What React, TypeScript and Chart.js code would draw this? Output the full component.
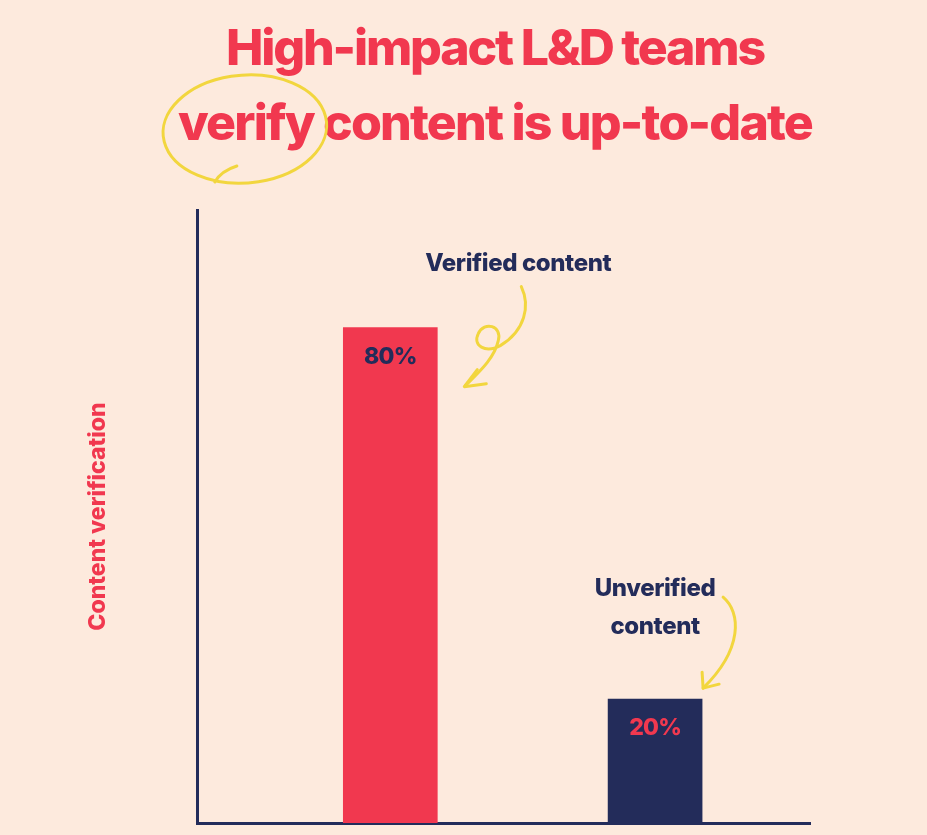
import { useEffect, useRef } from "react";
import { Chart, registerables } from "chart.js";

Chart.register(...registerables);

// ---- data ----
const categories = ["Verified content", "Unverified content"];
const values = [80, 20];
const valueLabels = ["80%", "20%"];
const annotationLines = [["Verified content"], ["Unverified", "content"]];
const titleLines = ["High-impact L&D teams", "verify content is up-to-date"];
const circledWord = "verify";
const yAxisTitle = "Content verification";

// ---- styles ----
const BG = "#fdeadd";
const RED = "#f1384f";
const NAVY = "#232c5a";
const YELLOW = "#f2d63e";
const barColors = [RED, NAVY];
const labelColors = [NAVY, RED];
const FONT = "Inter, 'Open Sans', sans-serif";

const bgPlugin = {
  id: "bg",
  beforeDraw(chart: any) {
    const { ctx, width, height } = chart;
    ctx.save();
    ctx.fillStyle = BG;
    ctx.fillRect(0, 0, width, height);
    ctx.restore();
  },
};

const titlePlugin = {
  id: "titleDeco",
  afterDraw(chart: any) {
    const ctx = chart.ctx as CanvasRenderingContext2D;
    const cx = 495;
    ctx.save();
    ctx.fillStyle = RED;
    ctx.textAlign = "left";
    ctx.textBaseline = "alphabetic";
    ctx.font = `800 50px ${FONT}`;
    const spacing = ["-2.2px", "-1.8px"];
    const baselines = [65, 140];
    let line2Left = 0;
    let vw = 0;
    titleLines.forEach((t, i) => {
      (ctx as any).letterSpacing = spacing[i];
      const w = ctx.measureText(t).width;
      const left = cx - w / 2;
      if (i === 1) {
        line2Left = left;
        vw = ctx.measureText(circledWord).width;
      }
      ctx.fillText(t, left, baselines[i]);
    });
    ctx.restore();

    // hand-drawn circle around the word
    ctx.save();
    ctx.strokeStyle = YELLOW;
    ctx.lineWidth = 3;
    ctx.lineCap = "round";
    const ex = line2Left + vw / 2 - 1;
    const ey = 129;
    ctx.beginPath();
    ctx.ellipse(ex, ey, vw / 2 + 14, 54, -0.08, -0.9, Math.PI * 1.75);
    ctx.stroke();
    ctx.beginPath();
    ctx.moveTo(ex - 8, ey + 37);
    ctx.quadraticCurveTo(ex - 24, ey + 42, ex - 30, ey + 53);
    ctx.stroke();
    ctx.restore();
  },
};

const annotatePlugin = {
  id: "annotate",
  afterDatasetsDraw(chart: any) {
    const ctx = chart.ctx as CanvasRenderingContext2D;
    const bars = chart.getDatasetMeta(0).data;
    ctx.save();
    ctx.textAlign = "center";
    ctx.textBaseline = "middle";
    // value labels inside bars
    bars.forEach((b: any, i: number) => {
      ctx.fillStyle = labelColors[i];
      ctx.font = `800 23px ${FONT}`;
      (ctx as any).letterSpacing = "-0.8px";
      ctx.fillText(valueLabels[i], b.x, b.y + 29);
    });
    // annotations
    ctx.fillStyle = NAVY;
    ctx.font = `800 24px ${FONT}`;
    (ctx as any).letterSpacing = "-0.4px";
    const b0 = bars[0];
    const b1 = bars[1];
    ctx.fillText(annotationLines[0][0], b0.x + 128, b0.y - 64);
    ctx.fillText(annotationLines[1][0], b1.x, b1.y - 110);
    ctx.fillText(annotationLines[1][1], b1.x, b1.y - 72);

    // arrows
    ctx.strokeStyle = YELLOW;
    ctx.lineWidth = 3;
    ctx.lineCap = "round";
    ctx.lineJoin = "round";
    // arrow 1 with loop
    ctx.save();
    ctx.translate(b0.x, b0.y);
    ctx.beginPath();
    ctx.moveTo(131, -41);
    ctx.bezierCurveTo(140, -22, 135, 3, 110, 18);
    ctx.bezierCurveTo(95, 26, 82, 18, 88, 6);
    ctx.bezierCurveTo(94, -7, 112, -2, 108, 13);
    ctx.bezierCurveTo(104, 31, 88, 45, 75, 58);
    ctx.stroke();
    ctx.beginPath();
    ctx.moveTo(87, 42);
    ctx.lineTo(74, 59);
    ctx.lineTo(96, 56);
    ctx.stroke();
    ctx.restore();
    // arrow 2
    ctx.save();
    ctx.translate(b1.x, b1.y);
    ctx.beginPath();
    ctx.moveTo(68, -102);
    ctx.bezierCurveTo(86, -87, 88, -50, 48, -11);
    ctx.stroke();
    ctx.beginPath();
    ctx.moveTo(47, -27);
    ctx.lineTo(48, -11);
    ctx.lineTo(64, -15);
    ctx.stroke();
    ctx.restore();
    ctx.restore();
  },
};

export default function App() {
  const ref = useRef<HTMLCanvasElement>(null);
  useEffect(() => {
    if (!ref.current) return;
    const chart = new Chart(ref.current, {
      type: "bar",
      data: {
        labels: categories,
        datasets: [
          {
            data: values.map((v, i) => ({ x: i, y: v })) as any,
            backgroundColor: barColors,
            borderWidth: 0,
            barThickness: 94,
          },
        ],
      },
      options: {
        animation: false,
        responsive: false,
        layout: { padding: { top: 210, right: 117, bottom: 12, left: 0 } },
        plugins: { legend: { display: false }, tooltip: { enabled: false }, title: { display: false } },
        scales: {
          x: {
            type: "linear",
            offset: false,
            min: -0.73,
            max: 1.585,
            grid: { display: false, drawTicks: false, offset: false },
            ticks: { display: false },
            border: { display: true, color: NAVY, width: 3 },
          },
          y: {
            min: 0,
            max: 99,
            grid: { display: false, drawTicks: false },
            ticks: { display: false },
            border: { display: true, color: NAVY, width: 3 },
            title: {
              display: true,
              text: yAxisTitle,
              color: RED,
              font: { family: FONT, size: 23, weight: "800" as any, lineHeight: 1.2 },
              padding: { top: 84, bottom: 85.4 },
            },
          },
        },
      },
      plugins: [bgPlugin, titlePlugin, annotatePlugin],
    });
    return () => chart.destroy();
  }, []);
  return (
    <div style={{ position: "fixed", top: 0, left: 0, width: 927, height: 835, background: BG }}>
      <canvas ref={ref} width={927} height={835} style={{ display: "block" }} />
    </div>
  );
}
